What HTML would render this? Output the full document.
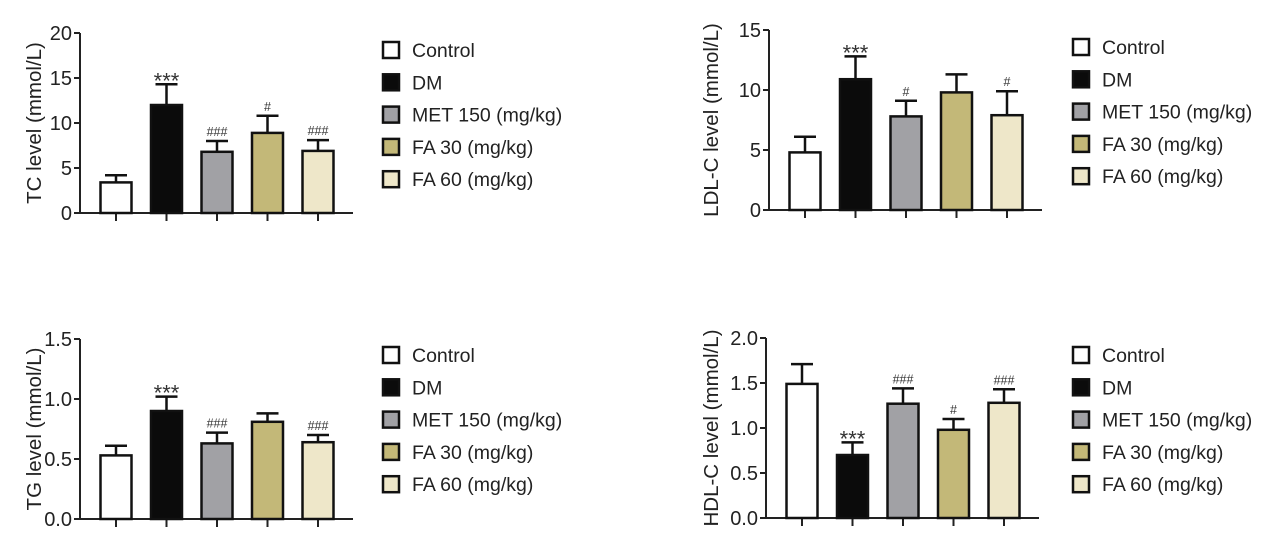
<!DOCTYPE html>
<html><head><meta charset="utf-8"><style>
html,body{margin:0;padding:0;background:#fff;}
svg{display:block;font-family:"Liberation Sans",Arial,sans-serif;}
</style></head><body>
<svg id="fig" width="1280" height="533" viewBox="0 0 1280 533" xmlns="http://www.w3.org/2000/svg"></svg>
<script>
const groups = ["Control","DM","MET 150 (mg/kg)","FA 30 (mg/kg)","FA 60 (mg/kg)"];
const tcValues = [3.4, 12.0, 6.8, 8.9, 6.9];
const tcErrors = [0.8, 2.3, 1.2, 1.9, 1.2];
const tcMarks = ["", "***", "###", "#", "###"];
const tcTicks = ["0","5","10","15","20"];
const ldlValues = [4.8, 10.9, 7.8, 9.8, 7.9];
const ldlErrors = [1.3, 1.9, 1.3, 1.5, 2.0];
const ldlMarks = ["", "***", "#", "", "#"];
const ldlTicks = ["0","5","10","15"];
const tgValues = [0.53, 0.90, 0.63, 0.81, 0.64];
const tgErrors = [0.08, 0.12, 0.09, 0.07, 0.06];
const tgMarks = ["", "***", "###", "", "###"];
const tgTicks = ["0.0","0.5","1.0","1.5"];
const hdlValues = [1.49, 0.70, 1.27, 0.98, 1.28];
const hdlErrors = [0.22, 0.14, 0.17, 0.12, 0.15];
const hdlMarks = ["", "***", "###", "#", "###"];
const hdlTicks = ["0.0","0.5","1.0","1.5","2.0"];
const colors = ["#ffffff","#0b0b0b","#a1a1a5","#c3b878","#eee7c9"];

const NS="http://www.w3.org/2000/svg";
const svg=document.getElementById('fig');
function mk(tag,attrs,parent){const e=document.createElementNS(NS,tag);for(const k in attrs)e.setAttribute(k,attrs[k]);(parent||svg).appendChild(e);return e;}

function panel(cfg){
  const g=mk('g',{});
  
  
  const yMax=cfg.max;
  const y=v=>cfg.y0-(v/yMax)*(cfg.y0-cfg.yTop);
  const xc=i=>cfg.x0+36+i*50.5;
  const ax=mk('line',{x1:cfg.x0,y1:cfg.yTop,x2:cfg.x0,y2:cfg.y0,stroke:'#222','stroke-width':2},g);
  
  
  const xa=mk('line',{x1:cfg.x0-6,y1:cfg.y0,x2:cfg.x0+273,y2:cfg.y0,stroke:'#222','stroke-width':2},g);
  
  
  const n=cfg.ticks.length;
  cfg.ticks.forEach((t,i)=>{
    const v=yMax*i/(n-1), yy=y(v);
    mk('line',{x1:cfg.x0-6,y1:yy,x2:cfg.x0,y2:yy,stroke:'#222','stroke-width':2},g);
    const tx=mk('text',{x:cfg.x0-8,y:yy+7,'text-anchor':'end','font-size':20,fill:'#222'},g);
    tx.textContent=t;
    
    
  });
  const title=mk('text',{x:0,y:0,transform:`translate(${cfg.x0+cfg.titleDx},${(cfg.y0+cfg.yTop)/2}) rotate(-90)`,'text-anchor':'middle','font-size':20.5,fill:'#222'},g);
  title.textContent=cfg.title;
  
  
  cfg.values.forEach((v,i)=>{
    const cx=xc(i), top=y(v), et=y(v+cfg.errors[i]);
    mk('line',{x1:cx,y1:cfg.y0,x2:cx,y2:cfg.y0+8,stroke:'#222','stroke-width':2},g);
    mk('line',{x1:cx,y1:top,x2:cx,y2:et,stroke:'#111','stroke-width':2.5},g);
    mk('line',{x1:cx-11,y1:et,x2:cx+11,y2:et,stroke:'#111','stroke-width':2.5},g);
    const b=mk('rect',{x:cx-15.5,y:top,width:31,height:cfg.y0-top,fill:colors[i],stroke:'#111','stroke-width':2.5},g);
    
    
    if(cfg.marks[i]){
      const star=cfg.marks[i].startsWith('*');
      const m=mk('text',{x:cx,y:star?et+4:et-5,'text-anchor':'middle','font-size':star?22:12.5,fill:'#333'},g);
      m.textContent=cfg.marks[i];
      
      
    }
  });
  groups.forEach((name,i)=>{
    const yy=cfg.legY+i*32.3;
    const r=mk('rect',{x:cfg.legX+1,y:yy-8,width:16,height:16,fill:colors[i],stroke:'#111','stroke-width':2.5},g);
    
    
    const t=mk('text',{x:cfg.legX+30,y:yy+7,'font-size':19.5,fill:'#222'},g);
    t.textContent=name;
    
    
  });
}
panel({name:'tc',x0:80,y0:213,yTop:33,max:20,ticks:tcTicks,values:tcValues,errors:tcErrors,marks:tcMarks,title:'TC level (mmol/L)',legX:382,legY:50,titleDx:-39});
panel({name:'ldl',x0:769,y0:210,yTop:30,max:15,ticks:ldlTicks,values:ldlValues,errors:ldlErrors,marks:ldlMarks,title:'LDL-C level (mmol/L)',legX:1072,legY:47,titleDx:-51});
panel({name:'tg',x0:80,y0:519,yTop:339,max:1.5,ticks:tgTicks,values:tgValues,errors:tgErrors,marks:tgMarks,title:'TG level (mmol/L)',legX:382,legY:355,titleDx:-39});
panel({name:'hdl',x0:766,y0:518,yTop:338,max:2.0,ticks:hdlTicks,values:hdlValues,errors:hdlErrors,marks:hdlMarks,title:'HDL-C level (mmol/L)',legX:1072,legY:355,titleDx:-48});
</script>
</body></html>
